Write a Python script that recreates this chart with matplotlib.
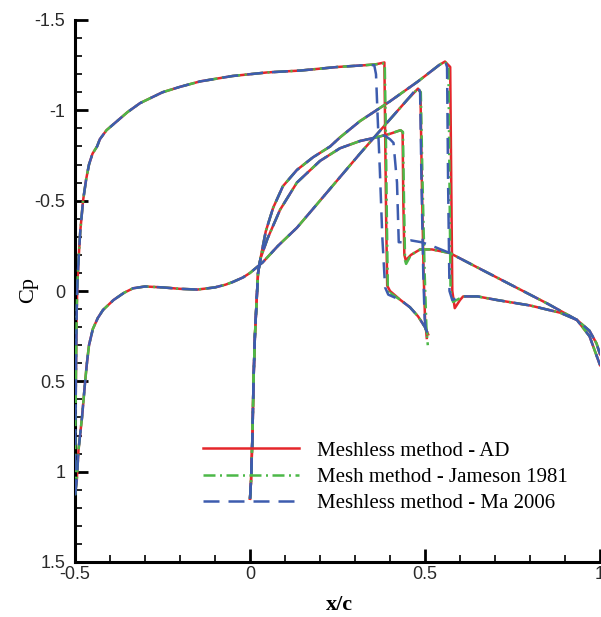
import numpy as np
import matplotlib
matplotlib.use('Agg')
import matplotlib.pyplot as plt
from matplotlib.ticker import MultipleLocator

# ---- data (x/c, Cp) ----
# front element, upper surface (shared part, LE -> plateau)
a_up_x = [-0.5, -0.499, -0.497, -0.495, -0.493, -0.489, -0.485, -0.477, -0.468, -0.46,
          -0.45, -0.437, -0.429, -0.41, -0.386, -0.35, -0.314, -0.25, -0.2, -0.143,
          -0.05, 0.05, 0.143, 0.25, 0.33]
a_up_cp = [1.13, 0.8, 0.4, 0.1, -0.05, -0.2, -0.33, -0.5, -0.62, -0.7,
           -0.76, -0.8, -0.84, -0.89, -0.93, -0.99, -1.04, -1.1, -1.13, -1.16,
           -1.19, -1.21, -1.22, -1.24, -1.25]
# front element, lower surface (shared part)
a_lo_x = [-0.5, -0.495, -0.49, -0.48, -0.471, -0.466, -0.46, -0.449, -0.435, -0.42,
          -0.39, -0.36, -0.334, -0.3, -0.25, -0.2, -0.15, -0.1, -0.07, -0.049,
          -0.02, 0.0, 0.037, 0.08, 0.134, 0.2, 0.257, 0.314, 0.4, 0.45]
a_lo_cp = [1.13, 1.05, 0.88, 0.7, 0.5, 0.4, 0.3, 0.21, 0.15, 0.105,
           0.05, 0.01, -0.015, -0.025, -0.02, -0.012, -0.008, -0.02, -0.035, -0.05,
           -0.075, -0.1, -0.16, -0.25, -0.35, -0.5, -0.63, -0.76, -0.95, -1.06]
# rear element, leading edge (both surfaces)
b_le_x = [0.0, 0.003, 0.007, 0.01, 0.014, 0.019, 0.023, 0.03]
b_le_cp = [1.15, 1.05, 0.8, 0.5, 0.25, 0.05, -0.1, -0.18]
# rear element, surface with the strong shock
b1_x = [0.045, 0.066, 0.094, 0.134, 0.18, 0.229, 0.257, 0.314, 0.4, 0.48, 0.54]
b1_cp = [-0.33, -0.46, -0.58, -0.67, -0.74, -0.8, -0.85, -0.94, -1.05, -1.16, -1.25]
b1_post_x = [0.65, 0.706, 0.8, 0.886, 0.934, 0.97, 0.99, 1.0]
b1_post_cp = [0.03, 0.05, 0.08, 0.12, 0.16, 0.22, 0.29, 0.35]
# rear element, surface with the weak shock
b2_x = [0.05, 0.086, 0.134, 0.2, 0.257, 0.314, 0.36]
b2_cp = [-0.29, -0.45, -0.6, -0.72, -0.79, -0.83, -0.85]
b2_post_x = [0.65, 0.75, 0.85, 0.934, 0.97, 1.0]
b2_post_cp = [-0.13, -0.03, 0.07, 0.16, 0.25, 0.41]

# shock regions, per method
ad_a_up_x = [0.36, 0.384, 0.386, 0.389, 0.392, 0.40, 0.43, 0.457, 0.48, 0.50, 0.509]
ad_a_up_cp = [-1.255, -1.265, -0.9, -0.4, -0.03, 0.0, 0.05, 0.09, 0.14, 0.2, 0.24]
ad_a_lo_x = [0.48, 0.487, 0.491, 0.496, 0.5, 0.505]
ad_a_lo_cp = [-1.12, -1.1, -0.6, -0.1, 0.15, 0.26]
ad_b1_x = [0.557, 0.572, 0.575, 0.578, 0.585, 0.6, 0.609]
ad_b1_cp = [-1.27, -1.24, -0.6, 0.0, 0.095, 0.05, 0.03]
ad_b2_x = [0.4, 0.43, 0.436, 0.438, 0.441, 0.445, 0.46, 0.486, 0.52, 0.571]
ad_b2_cp = [-0.87, -0.89, -0.88, -0.5, -0.2, -0.17, -0.2, -0.23, -0.23, -0.21]

jm_a_up_x = [0.36, 0.385, 0.388, 0.391, 0.394, 0.40, 0.43, 0.457, 0.48, 0.50, 0.509]
jm_a_up_cp = [-1.255, -1.26, -0.9, -0.4, 0.02, 0.01, 0.05, 0.09, 0.14, 0.2, 0.25]
jm_a_lo_x = [0.48, 0.488, 0.493, 0.499, 0.504, 0.508]
jm_a_lo_cp = [-1.12, -1.1, -0.6, -0.1, 0.2, 0.3]
jm_b1_x = [0.557, 0.567, 0.57, 0.573, 0.58, 0.6, 0.609]
jm_b1_cp = [-1.27, -1.24, -0.6, 0.0, 0.06, 0.04, 0.03]
jm_b2_x = [0.4, 0.43, 0.437, 0.44, 0.443, 0.446, 0.46, 0.486, 0.52, 0.571]
jm_b2_cp = [-0.87, -0.89, -0.88, -0.5, -0.17, -0.15, -0.2, -0.23, -0.23, -0.21]

ma_a_up_x = [0.355, 0.36, 0.365, 0.371, 0.378, 0.386, 0.395, 0.43, 0.457, 0.48, 0.50, 0.507]
ma_a_up_cp = [-1.25, -1.2, -0.95, -0.67, -0.3, -0.02, 0.02, 0.05, 0.09, 0.14, 0.2, 0.23]
ma_a_lo_x = [0.48, 0.486, 0.49, 0.495, 0.499, 0.503]
ma_a_lo_cp = [-1.13, -1.1, -0.6, -0.1, 0.15, 0.23]
ma_b1_x = [0.557, 0.563, 0.566, 0.57, 0.578, 0.59, 0.609]
ma_b1_cp = [-1.275, -1.24, -0.6, 0.0, 0.05, 0.04, 0.03]
ma_b2_x = [0.375, 0.385, 0.4, 0.41, 0.42, 0.425, 0.44, 0.46, 0.49, 0.52, 0.571]
ma_b2_cp = [-0.86, -0.86, -0.84, -0.82, -0.6, -0.27, -0.27, -0.28, -0.27, -0.25, -0.21]

labels = ['Meshless method - AD', 'Mesh method - Jameson 1981', 'Meshless method - Ma 2006']
colors = ['#e5262b', '#4cb848', '#3d5cae']
dashes = [(None, None), (4.8, 1.8, 0.8, 1.8), (6.4, 3.6)]

tails = [
    (ad_a_up_x, ad_a_up_cp, ad_a_lo_x, ad_a_lo_cp, ad_b1_x, ad_b1_cp, ad_b2_x, ad_b2_cp),
    (jm_a_up_x, jm_a_up_cp, jm_a_lo_x, jm_a_lo_cp, jm_b1_x, jm_b1_cp, jm_b2_x, jm_b2_cp),
    (ma_a_up_x, ma_a_up_cp, ma_a_lo_x, ma_a_lo_cp, ma_b1_x, ma_b1_cp, ma_b2_x, ma_b2_cp),
]

fig = plt.figure(figsize=(6.01, 6.17), dpi=100)
ax = fig.add_axes([75/601, 55/617, 525/601, 542/617])

for i in range(3):
    aux, aucp, alx, alcp, b1x, b1cp, b2x, b2cp = tails[i]
    curves = [
        (a_up_x + aux, a_up_cp + aucp),
        (a_lo_x + alx, a_lo_cp + alcp),
        (b_le_x + b1_x + b1x + b1_post_x, b_le_cp + b1_cp + b1cp + b1_post_cp),
        (b_le_x + b2_x + b2x + b2_post_x, b_le_cp + b2_cp + b2cp + b2_post_cp),
    ]
    for k, (cx, cy) in enumerate(curves):
        ln, = ax.plot(cx, cy, color=colors[i], lw=1.8,
                      label=labels[i] if k == 0 else None, zorder=2 + i)
        if dashes[i][0] is not None:
            ln.set_dashes(dashes[i])

ax.set_xlim(-0.5, 1.0)
ax.set_ylim(1.5, -1.5)

ax.xaxis.set_major_locator(MultipleLocator(0.5))
ax.xaxis.set_minor_locator(MultipleLocator(0.1))
ax.yaxis.set_major_locator(MultipleLocator(0.5))
ax.yaxis.set_minor_locator(MultipleLocator(0.1))
ax.set_xticks([-0.5, 0, 0.5, 1])
ax.set_xticklabels(['-0.5', '0', '0.5', '1'])
ax.set_yticks([-1.5, -1, -0.5, 0, 0.5, 1, 1.5])
ax.set_yticklabels(['-1.5', '-1', '-0.5', '0', '0.5', '1', '1.5'])

for s in ['top', 'right']:
    ax.spines[s].set_visible(False)
for s in ['left', 'bottom']:
    ax.spines[s].set_linewidth(2.2)
ax.tick_params(which='major', direction='in', length=9.5, width=2.0, pad=7,
               labelsize=13, labelcolor='#2a2a2a')
ax.tick_params(which='minor', direction='in', length=5, width=1.2)
for lab in ax.get_xticklabels() + ax.get_yticklabels():
    lab.set_fontfamily('Liberation Sans')
ax.tick_params(axis='x', which='major', pad=3)

ax.set_ylabel('Cp', fontfamily='Liberation Serif', fontsize=16)
ax.yaxis.set_label_coords(-0.07, 0.502)
ax.set_xlabel('x/c', fontfamily='Liberation Serif', fontsize=16, fontweight='bold')
ax.xaxis.set_label_coords(0.503, -0.06)

ax.legend(loc='upper left', bbox_to_anchor=(203/601, 1 - 441/617),
          bbox_transform=fig.transFigure, frameon=False, borderpad=0,
          borderaxespad=0, handlelength=4.6, handletextpad=0.85,
          labelspacing=0.32, prop={'family': 'Liberation Serif', 'size': 15})

fig.savefig('out.png', dpi=100)
